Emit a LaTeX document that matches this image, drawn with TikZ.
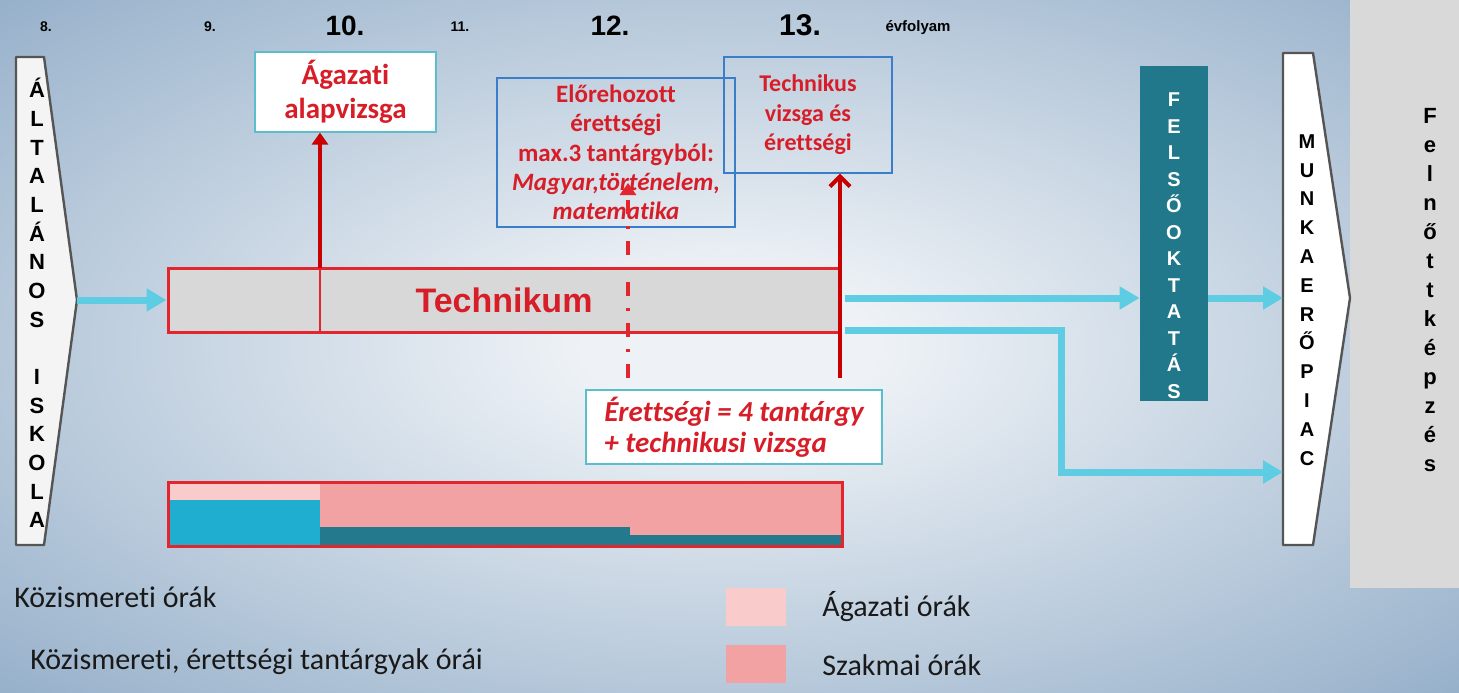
\documentclass[tikz,border=0pt]{standalone}
\usepackage{fontspec}
\setmainfont{Liberation Sans}
\newfontfamily\calibri[Ligatures=NoCommon]{Carlito}
\usetikzlibrary{arrows.meta}
\usetikzlibrary{calc}
\definecolor{bg-blue}{RGB}{126, 158, 190}
\definecolor{bg-light}{RGB}{238, 242, 246}
\definecolor{flow-cyan}{RGB}{94, 205, 228}
\definecolor{line-red}{RGB}{227, 38, 46}
\definecolor{arrow-red}{RGB}{200, 0, 0}
\definecolor{text-red}{RGB}{215, 30, 40}
\definecolor{box-blue}{RGB}{58, 125, 200}
\definecolor{box-cyan}{RGB}{91, 190, 205}
\definecolor{panel-gray}{RGB}{217, 217, 217}
\definecolor{tech-gray}{RGB}{216, 216, 216}
\definecolor{shape-white}{RGB}{244, 244, 244}
\definecolor{shape-gray}{RGB}{85, 85, 85}
\definecolor{felso-teal}{RGB}{33, 120, 138}
\definecolor{ag-pink}{RGB}{249, 203, 203}
\definecolor{sz-pink}{RGB}{242, 162, 162}
\definecolor{k-cyan}{RGB}{31, 173, 208}
\definecolor{k-teal}{RGB}{36, 122, 140}
\pgfdeclareradialshading{bgglow}{\pgfpoint{0bp}{0bp}}{color(0bp)=(bg-light); color(5bp)=(bg-light); color(44bp)=(bg-blue); color(50bp)=(bg-blue)}

\begin{document}
\begin{tikzpicture}[x=0.5pt, y=-0.5pt,
    flow/.style={draw=flow-cyan, line width=3.5pt, -{Triangle[length=10pt,width=11pt]}},
    uparrow/.style={draw=arrow-red, line width=2pt, -{Triangle[length=6pt,width=8pt]}},
    whitebox/.style={draw=box-cyan, fill=white, line width=0.6pt, inner sep=0pt, text=text-red},
    bluebox/.style={draw=box-blue, line width=0.7pt, inner sep=0pt, text=text-red, align=center},
    stack/.style={align=center, inner sep=0pt},
    year/.style={inner sep=0pt, font=\bfseries\fontsize{7}{8}\selectfont},
    bigyear/.style={inner sep=0pt, font=\bfseries\fontsize{14}{16}\selectfont},
    legend/.style={anchor=west, inner sep=0pt, text=black!90, font=\calibri\fontsize{15}{18}\selectfont},
    swatch/.style={inner sep=0pt, minimum width=30pt, minimum height=19pt}]
    \shade[shading=bgglow] (0, 0) rectangle (1459, 692);
    \useasboundingbox (0, 0) rectangle (1459, 692);
    \fill[panel-gray] (1350, 0) rectangle (1459, 588);

    % years
    \node[year] (y8) at (46, 27) {8.};
    \node[year] (y9) at (210, 27) {9.};
    \node[bigyear] (y10) at (345, 26) {10.};
    \node[year] (y11) at (460, 27) {11.};
    \node[bigyear] (y12) at (610, 26) {12.};
    \node[bigyear, font=\bfseries\fontsize{15}{17}\selectfont] (y13) at (800, 25) {13.};
    \node[year, font=\bfseries\fontsize{7.5}{9}\selectfont] (evf) at (918, 28) {évfolyam};

    % left and right pointers
    \filldraw[fill=shape-white, draw=shape-gray, line width=1.2pt, line join=round] (16, 57) -- (44, 57) -- (77, 300) -- (44, 545) -- (16, 545) -- cycle;
    \coordinate (alt-tip) at (77, 300);
    \node[stack, font=\bfseries\fontsize{11}{14.33}\selectfont] (alt) at (37, 303) {Á\\L\\T\\A\\L\\Á\\N\\O\\S\\[14.33pt]I\\S\\K\\O\\L\\A};
    \filldraw[fill=white, draw=shape-gray, line width=1.2pt, line join=round] (1283, 53) -- (1313, 53) -- (1350, 298) -- (1313, 545) -- (1283, 545) -- cycle;
    \coordinate (munka-in) at (1283, 298);
    \coordinate (munka-low) at (1283, 472);
    \node[stack, font=\bfseries\fontsize{10}{14.4}\selectfont] (munka) at (1307, 300) {M\\U\\N\\K\\A\\E\\R\\Ő\\P\\I\\A\\C};
    \node[stack, font=\bfseries\fontsize{11}{14.5}\selectfont] (felnott) at (1430, 290) {F\\e\\l\\n\\ő\\t\\t\\k\\é\\p\\z\\é\\s};

    % felsooktatas
    \node[fill=felso-teal, inner sep=0pt, minimum width=34pt, minimum height=167.5pt] (felso) at (1174, 233.5) {};
    \node[stack, text=white, font=\bfseries\fontsize{10}{13.25}\selectfont] (felso-text) at ($(felso.center)+(0, 12)$) {F\\E\\L\\S\\Ő\\O\\K\\T\\A\\T\\Á\\S};

    % technikum
    \node[draw=line-red, fill=tech-gray, line width=1.5pt, inner sep=0pt, minimum width=336pt, minimum height=32pt, text=text-red, font=\bfseries\fontsize{17}{20}\selectfont] (tech) at (504, 300) {Technikum};
    \coordinate (split) at (320, 268);
    \draw[line-red, line width=0.6pt] (split) -- (split |- tech.south);

    % exams
    \node[whitebox, minimum width=90.5pt, minimum height=40pt, align=center, font=\calibri\bfseries\fontsize{14.5}{17}\selectfont] (agazati) at (345.5, 92) {Ágazati\\alapvizsga};
    \node[bluebox, minimum width=119pt, minimum height=74.5pt, font=\calibri\bfseries\fontsize{12.5}{14.6}\selectfont] (elore) at (616, 152.5) {Előrehozott\\érettségi\\max.3 tantárgyból:\\\itshape Magyar,történelem,\\\itshape matematika};
    \node[bluebox, minimum width=84pt, minimum height=58pt, font=\calibri\bfseries\fontsize{12}{14.75}\selectfont] (technikus) at (808, 115) {Technikus\\vizsga és\\érettségi};
    \node[whitebox, minimum width=148pt, minimum height=37pt, align=left, font=\calibri\bfseries\itshape\fontsize{14.5}{15.5}\selectfont] (erett) at (734, 427) {Érettségi = 4 tantárgy\\+ technikusi vizsga};

    \draw[uparrow] (split) -- (split |- agazati.south);
    \coordinate (early-foot) at (628, 378);
    \coordinate (early-head) at (628, 183);
    \draw[uparrow, draw=line-red, dash pattern=on 7pt off 6pt on 1.5pt off 6pt] (early-foot) -- (early-head);
    \coordinate (final-foot) at (840, 378);
    \draw[uparrow, -{Straight Barb[length=5pt,width=10pt,line width=2pt]}] (final-foot) -- (final-foot |- technikus.south);

    % flows
    \draw[flow] (alt-tip) -- (tech.west);
    \draw[flow] ($(tech.east)+(3, -2)$) -- ($(tech.east -| felso.west)+(0, -2)$);
    \draw[flow] (felso.east |- munka-in) -- (munka-in);
    \draw[flow, line join=miter] ($(tech.south east)+(3, -3)$) -| ($(munka-low)+(-222, 0)$) -- (munka-low);

    % hours bar
    \fill[ag-pink] (168, 482) rectangle (320, 500);
    \fill[k-cyan] (168, 500) rectangle (320, 546);
    \fill[sz-pink] (320, 482) rectangle (842, 546);
    \fill[k-teal] (320, 527) rectangle (630, 546);
    \fill[k-teal] (630, 535) rectangle (842, 546);
    \draw[line-red, line width=1.5pt] (168, 482) rectangle (842, 546);

    % legend
    \node[legend] (leg-k) at (14, 597) {Közismereti órák};
    \node[legend] (leg-ke) at (30, 662) {Közismereti, érettségi tantárgyak órái};
    \node[swatch, fill=ag-pink] (sw-ag) at (756, 606.5) {};
    \node[swatch, fill=sz-pink] (sw-sz) at (756, 664) {};
    \node[legend] (leg-ag) at (822, 607) {Ágazati órák};
    \node[legend] (leg-sz) at (822, 665) {Szakmai órák};
\end{tikzpicture}
\end{document}
